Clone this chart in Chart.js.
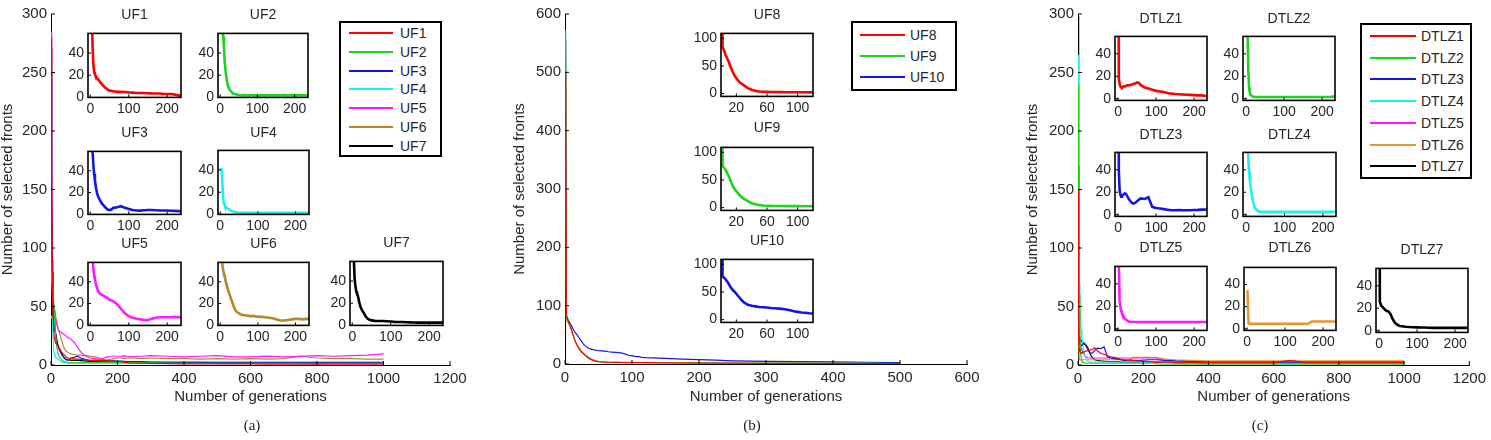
<!DOCTYPE html>
<html>
<head>
<meta charset="utf-8">
<script src="https://cdn.jsdelivr.net/npm/chart.js@4.4.0/dist/chart.umd.min.js"></script>
<style>
  body { margin: 0; background: #fff; }
  #fig { position: relative; width: 1491px; height: 440px; overflow: hidden; background: #fff;
         font-family: 'Liberation Sans', Arial, sans-serif; }
  .legend { position: absolute; border: 2px solid #000; background: #fff; box-sizing: border-box; }
  .cap { position: absolute; font-family: 'Liberation Serif', 'Times New Roman', serif; font-size: 15px;
         color: #222; transform: translate(-50%, -50%); }
</style>
</head>
<body>
<div id="fig"></div>
<script>
// ---- panel (a): UF1-UF7 ----
const GEN_A = [1, 2, 4, 6, 8, 10, 12, 15, 18, 21, 25, 30, 35, 40, 45, 50, 55, 60, 70, 80, 90, 100, 110, 120, 130, 140, 150, 160, 170, 180, 190, 200, 210, 220, 230, 240, 270, 300, 350, 400, 450, 500, 550, 600, 650, 700, 750, 800, 850, 900, 950, 1000];
const UF_NAMES = ['UF1', 'UF2', 'UF3', 'UF4', 'UF5', 'UF6', 'UF7'];
const UF_COLORS = ['#ff0000', '#1ed51e', '#1515e6', '#19f0f0', '#ff19ff', '#b5892a', '#000000'];
const UF1 = [280, 160, 75, 45, 30, 23, 21, 19, 17, 16, 14, 12, 10, 8.5, 7, 6, 6, 5.5, 5, 5, 4.8, 4.5, 4.3, 4, 4, 4, 3.8, 3.6, 3.5, 3.5, 3.2, 3, 3, 2.5, 1.8, 1.5, 1.5, 1.3, 1.2, 1, 1, 1, 1, 1, 0.8, 0.8, 0.8, 1, 0.8, 0.8, 0.8, 0.8];
const UF2 = [80, 75, 68, 62, 55, 45, 32, 22, 15, 10, 7, 5, 3.5, 3, 2.5, 2.2, 2, 2.1, 2, 1.9, 2, 2, 2.1, 2, 1.9, 2, 2, 2, 2.1, 2, 2, 1.9, 2, 2, 2, 2.1, 1.8, 1.8, 1.6, 1.5, 1.5, 1.5, 1.5, 1.5, 1.5, 1.5, 1.5, 1.5, 1.5, 1.5, 1.5, 1.5];
const UF3 = [250, 140, 80, 57, 45, 37, 31, 24, 19, 16, 13, 10, 8, 6, 4.5, 4, 4.5, 6, 6.5, 7.5, 6, 5, 4, 3.6, 3.5, 3.8, 4, 4, 3.8, 3.6, 3.6, 3.6, 3.4, 3.2, 3, 3, 2.8, 2.5, 2.3, 2.2, 2.2, 2.1, 2, 2, 2, 2, 2.1, 2, 2, 2, 2, 2];
const UF4 = [42, 41, 40, 25, 14, 10, 8, 6.5, 5.5, 5, 4, 3, 2.5, 2, 1.8, 1.5, 1.5, 1.5, 1.5, 1.5, 1.5, 1.5, 1.5, 1.5, 1.5, 1.5, 1.5, 1.5, 1.5, 1.5, 1.5, 1.5, 1.5, 1.5, 1.5, 1.5, 1.5, 1.5, 1.5, 1.5, 1.5, 1.5, 1.5, 1.5, 1.5, 1.5, 1.5, 1.5, 1.5, 1.5, 1.5, 1.5];
const UF5 = [285, 170, 90, 62, 52, 46, 42, 37, 34, 31, 29, 28, 27, 26, 25, 23.5, 23, 22, 19.5, 15, 11, 8.5, 7, 6, 5.5, 5, 5, 6, 7, 7.5, 7.5, 7.5, 7.5, 7.8, 7.5, 7, 7.5, 8, 7.5, 7, 7.5, 8, 7, 7, 7.5, 7, 7.5, 8, 7.5, 8, 8.5, 9.5];
const UF6 = [110, 85, 60, 55, 50, 47, 44, 40, 36, 32, 28, 23, 18, 14, 12, 11, 10, 9.5, 9, 8.5, 8.5, 8, 7.8, 7.5, 7, 6.5, 5.5, 4.5, 4.5, 5, 5.5, 6, 6, 5.5, 6, 6, 5.5, 6, 5.5, 5.5, 5, 5.5, 5, 5.5, 5, 5.5, 7.5, 6, 5.5, 5.5, 5, 5];
const UF7 = [270, 130, 60, 42, 36, 31, 29, 26, 21, 17, 14, 11, 8, 6, 5, 4.5, 4.3, 4, 4, 4, 3.8, 3.5, 3.2, 3, 3, 2.8, 2.7, 2.6, 2.5, 2.5, 2.5, 2.5, 2.5, 2.5, 2.5, 2.5, 2.5, 2.3, 2.3, 2.2, 2.2, 2.2, 2.2, 2.2, 2.2, 2.2, 2.2, 2.2, 2.2, 2.2, 2.2, 2.2];

// ---- panel (b): UF8-UF10 ----
const GEN_B = [1, 2, 4, 6, 8, 10, 12, 15, 18, 21, 24, 27, 30, 35, 40, 45, 50, 55, 60, 65, 70, 75, 80, 85, 90, 95, 100, 105, 110, 115, 120, 130, 140, 150, 175, 200, 225, 250, 300, 350, 400, 450, 500];
const UFB_NAMES = ['UF8', 'UF9', 'UF10'];
const UFB_COLORS = ['#ff0000', '#1ed51e', '#1515e6'];
const UF8 = [500, 85, 78, 70, 64, 58, 50, 40, 32, 26, 21, 18, 15, 10, 7, 5, 4, 3.5, 3.2, 3, 3, 2.8, 2.8, 2.6, 2.5, 2.5, 2.5, 2.4, 2.4, 2.3, 2.3, 2.2, 2, 2, 1.8, 1.6, 1.5, 1.4, 1.2, 1, 1, 0.9, 0.8];
const UF9 = [572, 75, 72, 68, 63, 57, 50, 40, 33, 28, 23, 19, 16, 12, 8, 6, 4.5, 3.8, 3.4, 3.1, 3, 3, 2.9, 2.8, 2.8, 2.7, 2.7, 2.6, 2.6, 2.6, 2.5, 2.4, 2.3, 2.2, 2, 1.9, 1.8, 1.7, 1.5, 1.4, 1.3, 1.2, 1.2];
const UF10 = [555, 78, 76, 73, 69, 65, 60, 54, 50, 45, 40, 35, 31, 27, 25, 24, 23, 22.5, 22, 21, 20.5, 20, 19.5, 18.5, 17, 15, 14, 13, 12.5, 11.5, 11, 10.5, 10, 9.5, 8.5, 7.5, 6.5, 5.5, 4.5, 4, 3.5, 3, 2.5];

// ---- panel (c): DTLZ1-DTLZ7 ----
const GEN_C = [1, 2, 4, 6, 8, 10, 12, 15, 18, 21, 25, 30, 35, 40, 45, 50, 55, 60, 70, 80, 90, 100, 110, 120, 130, 140, 150, 160, 170, 180, 190, 200, 210, 220, 230, 240, 270, 300, 350, 400, 450, 500, 550, 600, 650, 700, 750, 800, 850, 900, 950, 1000];
const DTLZ_NAMES = ['DTLZ1', 'DTLZ2', 'DTLZ3', 'DTLZ4', 'DTLZ5', 'DTLZ6', 'DTLZ7'];
const DTLZ_COLORS = ['#ff0000', '#1ed51e', '#1515e6', '#19f0f0', '#ff19ff', '#e8962f', '#000000'];
const DTLZ1 = [150, 18, 14, 11, 10.5, 10, 10.5, 11, 11, 11.5, 12, 12, 12.5, 13, 13.5, 14.5, 14, 12, 10, 9, 8, 7, 6.5, 6, 5, 4.5, 4.2, 4, 3.8, 3.6, 3.4, 3.2, 3, 3, 2.4, 2.5, 2.5, 2.3, 2.2, 2, 2, 2, 2, 2, 4, 2, 2, 2, 2, 2, 2, 2];
const DTLZ2 = [240, 90, 60, 25, 10, 5, 3.5, 2.5, 2, 1.6, 1.5, 1.5, 1.5, 1.5, 1.5, 1.5, 1.5, 1.5, 1.5, 1.5, 1.5, 1.5, 1.5, 1.5, 1.5, 1.5, 1.5, 1.5, 1.5, 1.5, 1.5, 1.5, 1.5, 1.5, 2, 1, 0.8, 0.8, 0.8, 0.8, 0.8, 0.8, 0.8, 0.8, 0.8, 0.8, 0.8, 0.8, 0.8, 0.8, 0.8, 0.8];
const DTLZ3 = [170, 40, 22, 18, 16, 16.5, 17.5, 18, 19, 18.5, 16, 13, 11, 10, 10.5, 12, 13.5, 14.5, 14, 15.5, 7, 6, 5.5, 5, 4.5, 4, 4, 4.2, 4, 4, 4, 4.2, 4.3, 4.5, 4.5, 4.5, 4, 3.5, 3, 2.5, 2.5, 2.5, 2.5, 2.5, 2.5, 2.5, 2.5, 2.5, 2.5, 2.5, 2.5, 2.5];
const DTLZ4 = [265, 120, 70, 50, 38, 30, 24, 17, 12, 8, 5, 3.5, 2.7, 2.5, 2.5, 2.5, 2.5, 2.5, 2.5, 2.5, 2.5, 2.5, 2.5, 2.5, 2.5, 2.5, 2.5, 2.5, 2.5, 2.5, 2.5, 2.5, 2.5, 2.5, 2.5, 3, 2.2, 2.2, 2.2, 2.2, 2.2, 2.2, 2.2, 2.2, 2.2, 2.2, 2.2, 2.2, 2.2, 2.2, 2.2, 2.2];
const DTLZ5 = [170, 60, 25, 20, 16, 14, 12.5, 10.5, 9, 8, 7, 6.2, 6, 6, 6, 6, 6, 6, 6, 6, 6, 6, 6, 6, 6, 6, 6, 6, 6, 6, 6, 6, 6, 6, 6, 6, 3, 1.5, 1.5, 1.5, 1.5, 1.5, 1.5, 1.5, 1.5, 1.5, 1.5, 1.5, 1.5, 1.5, 1.5, 1.5];
const DTLZ6 = [35, 35, 5, 4.5, 4.5, 4.5, 4.5, 4.5, 4.5, 4.5, 4.5, 4.5, 4.5, 4.5, 4.5, 4.5, 4.5, 4.5, 4.5, 4.5, 4.5, 4.5, 4.5, 4.5, 4.5, 4.5, 4.5, 4.5, 6.5, 6.5, 6.5, 6.5, 6.5, 6.5, 6.5, 6.5, 5, 4.5, 4, 3.5, 3.5, 3.5, 3.5, 3.5, 3.5, 3.5, 3.5, 3.5, 3.5, 3.5, 3.5, 3.5];
const DTLZ7 = [298, 26, 24, 22, 21.5, 21, 20, 19, 18, 17.5, 17, 15, 11, 8, 6, 5, 4.2, 4, 3.6, 3.3, 3.1, 3, 2.9, 2.8, 2.6, 2.5, 2.5, 2.5, 2.5, 2.5, 2.5, 2.5, 2.5, 2.5, 2.5, 2.5, 2.2, 2.2, 2.2, 2.2, 2.2, 2.2, 2.2, 2.2, 2.2, 2.2, 2.2, 2.2, 2.2, 2.2, 2.2, 2.2];

// ---- tick values ----
const MAIN_X_TICKS = [0, 200, 400, 600, 800, 1000, 1200];
const MAIN_Y_TICKS = [0, 50, 100, 150, 200, 250, 300];
const MAIN_B_X_TICKS = [0, 100, 200, 300, 400, 500, 600];
const MAIN_B_Y_TICKS = [0, 100, 200, 300, 400, 500, 600];
const INSET_X_TICKS = [0, 100, 200];
const INSET_Y_TICKS = [0, 20, 40];
const INSET_B_X_TICKS = [20, 60, 100];
const INSET_B_Y_TICKS = [0, 50, 100];

Chart.defaults.font.family = "'Liberation Sans', Arial, sans-serif";
Chart.defaults.font.size = 14;
Chart.defaults.color = '#262626';

const fig = document.getElementById('fig');

// box around inset axes + MATLAB style inward ticks
const framePlugin = {
  id: 'frame',
  afterDatasetsDraw(chart, args, o) {
    const { ctx, chartArea: a, scales: { x, y } } = chart;
    ctx.save();
    ctx.strokeStyle = '#000';
    if (o.box) {
      ctx.lineWidth = 1.6;
      ctx.strokeRect(a.left, a.top, a.right - a.left, a.bottom - a.top);
    }
    const L = o.tick;
    ctx.lineWidth = 1;
    ctx.beginPath();
    x.ticks.forEach(t => {
      const p = x.getPixelForValue(t.value);
      ctx.moveTo(p, a.bottom); ctx.lineTo(p, a.bottom - L);
    });
    y.ticks.forEach(t => {
      const p = y.getPixelForValue(t.value);
      ctx.moveTo(a.left, p); ctx.lineTo(a.left + L, p);
    });
    ctx.stroke();
    ctx.restore();
  }
};

function pts(gen, vals) {
  return gen.map((g, i) => ({ x: g, y: vals[i] }));
}

function holder(x, y, w, h) {
  const d = document.createElement('div');
  d.style.cssText = `position:absolute;left:${x}px;top:${y}px;width:${w}px;height:${h}px;`;
  const c = document.createElement('canvas');
  d.appendChild(c);
  fig.appendChild(d);
  return c;
}

// o.box = plot area in page pixels, o.pad = [left, right, bottom] room for labels
function plot(o) {
  const [x0, y0, x1, y1] = o.box;
  const [l, r, b] = o.pad;
  const t = o.title ? y0 - (o.titleY - 10.4) : o.top;
  const cv = holder(x0 - l, y0 - t, x1 - x0 + l + r, y1 - y0 + t + b);
  const fs = o.inset ? 14 : 15;

  const axis = (range, ticks, fit, extra) => ({
    type: 'linear', min: range[0], max: range[1],
    afterBuildTicks: s => { s.ticks = ticks.map(v => ({ value: v })); },
    afterFit: fit,
    grid: { display: false, drawTicks: false },
    border: { display: !o.inset, color: '#000', width: 1 },
    ...extra
  });

  return new Chart(cv, {
    type: 'line',
    data: {
      datasets: o.series.map(s => ({
        label: s.label,
        data: pts(o.gen, s.values),
        borderColor: s.color,
        borderWidth: o.lw,
        pointRadius: 0,
        tension: 0,
        fill: false
      }))
    },
    options: {
      responsive: true,
      maintainAspectRatio: false,
      animation: false,
      events: [],
      layout: { autoPadding: false, padding: { top: o.title ? 0 : t, right: r, left: 0, bottom: 0 } },
      plugins: {
        legend: { display: false },
        tooltip: { enabled: false },
        title: o.title ? {
          display: true, text: o.title, fullSize: false, color: '#262626',
          font: { size: 14, weight: 'normal', lineHeight: 1.2 },
          padding: { top: 2, bottom: t - 18.8 }
        } : { display: false },
        frame: { box: !!o.inset, tick: o.inset ? 3 : 4 }
      },
      scales: {
        x: axis(o.xr, o.xt, s => { s.height = b; }, {
          ticks: { padding: o.inset ? 3 : 5, maxRotation: 0, autoSkip: false, font: { size: fs },
                   callback: v => String(v) },
          title: o.xTitle ? { display: true, text: o.xTitle, font: { size: 15, lineHeight: 1 },
                              padding: { top: 0, bottom: 16 } } : { display: false }
        }),
        y: axis(o.yr, o.yt, s => { s.width = l; }, {
          ticks: { padding: 4, autoSkip: false, font: { size: fs }, callback: v => String(v) },
          title: o.yTitle ? { display: true, text: o.yTitle, font: { size: 15, lineHeight: 1 },
                              padding: { top: 0, bottom: 0 } } : { display: false }
        })
      }
    },
    plugins: [framePlugin]
  });
}

function legend(left, top, right, bottom, names, colors, row0, step, lineX0, lineX1, textX) {
  const box = document.createElement('div');
  box.className = 'legend';
  box.style.left = left + 'px';
  box.style.top = top + 'px';
  box.style.width = (right - left) + 'px';
  box.style.height = (bottom - top) + 'px';
  names.forEach((n, i) => {
    const y = row0 + i * step - top - 2;
    const ln = document.createElement('div');
    ln.style.cssText = `position:absolute;left:${lineX0 - left - 2}px;top:${y - 1}px;width:${lineX1 - lineX0}px;height:2px;background:${colors[i]};`;
    const tx = document.createElement('div');
    tx.textContent = n;
    tx.style.cssText = `position:absolute;left:${textX - left - 2}px;top:${y - 8}px;font-size:14px;line-height:16px;color:#262626;white-space:nowrap;`;
    box.appendChild(ln);
    box.appendChild(tx);
  });
  fig.appendChild(box);
}

function caption(text, x, y) {
  const d = document.createElement('div');
  d.className = 'cap';
  d.textContent = text;
  d.style.left = x + 'px';
  d.style.top = y + 'px';
  fig.appendChild(d);
}

const seriesOf = (names, colors, values) => names.map((n, i) => ({ label: n, color: colors[i], values: values[i] }));
const ufA = seriesOf(UF_NAMES, UF_COLORS, [UF1, UF2, UF3, UF4, UF5, UF6, UF7]);
const ufB = seriesOf(UFB_NAMES, UFB_COLORS, [UF8, UF9, UF10]);
const dtlz = seriesOf(DTLZ_NAMES, DTLZ_COLORS, [DTLZ1, DTLZ2, DTLZ3, DTLZ4, DTLZ5, DTLZ6, DTLZ7]);

// ---- main axes ----
plot({ box: [51, 14, 450, 365], pad: [51, 50, 55], top: 14, gen: GEN_A, series: ufA, lw: 1.2,
       xr: [0, 1200], yr: [0, 300], xt: MAIN_X_TICKS, yt: MAIN_Y_TICKS,
       xTitle: 'Number of generations', yTitle: 'Number of selected fronts' });
plot({ box: [565, 14, 967, 364], pad: [53, 33, 56], top: 14, gen: GEN_B, series: ufB, lw: 1.2,
       xr: [0, 600], yr: [0, 600], xt: MAIN_B_X_TICKS, yt: MAIN_B_Y_TICKS,
       xTitle: 'Number of generations', yTitle: 'Number of selected fronts' });
plot({ box: [1078, 14, 1477, 365], pad: [53, 14, 55], top: 14, gen: GEN_C, series: dtlz, lw: 1.2,
       xr: [0, 1200], yr: [0, 300], xt: MAIN_X_TICKS, yt: MAIN_Y_TICKS,
       xTitle: 'Number of generations', yTitle: 'Number of selected fronts' });

// ---- insets (a) ----
const insetA = [
  [88, 33, 181, 97, 15], [218, 33, 308, 97, 15],
  [88, 151, 181, 214, 133], [218, 150, 309, 214, 133],
  [88, 262, 181, 325, 244], [218, 262, 309, 325, 244], [350, 261, 443, 325, 243]
];
insetA.forEach((p, i) => plot({
  box: p.slice(0, 4), titleY: p[4], title: UF_NAMES[i], pad: [34, 12, 22], inset: true,
  gen: GEN_A, series: [ufA[i]], lw: 2.6,
  xr: [-6, 236], yr: [0, 57.7], xt: INSET_X_TICKS, yt: INSET_Y_TICKS
}));

// ---- insets (b) ----
const insetB = [[721, 33, 813, 96, 15], [721, 147, 813, 210, 128], [721, 259, 813, 322, 241]];
insetB.forEach((p, i) => plot({
  box: p.slice(0, 4), titleY: p[4], title: UFB_NAMES[i], pad: [40, 12, 22], inset: true,
  gen: GEN_B, series: [ufB[i]], lw: 2.6,
  xr: [0, 120], yr: [-5, 109], xt: INSET_B_X_TICKS, yt: INSET_B_Y_TICKS
}));

// ---- insets (c) ----
const insetC = [
  [1115, 36, 1207, 100, 19], [1243, 36, 1335, 100, 19],
  [1115, 152, 1207, 216, 135], [1243, 152, 1336, 216, 135],
  [1115, 266, 1207, 330, 248], [1244, 267, 1336, 330, 248], [1376, 268, 1468, 332, 250]
];
insetC.forEach((p, i) => plot({
  box: p.slice(0, 4), titleY: p[4], title: DTLZ_NAMES[i], pad: [34, 12, 22], inset: true,
  gen: GEN_C, series: [dtlz[i]], lw: 2.6,
  xr: [-8, 234], yr: [-1.5, 55.5], xt: INSET_X_TICKS, yt: INSET_Y_TICKS
}));

// ---- legends ----
legend(339, 21, 442, 157, UF_NAMES, UF_COLORS, 33, 18.8, 349, 393, 400);
legend(851, 21, 957, 91, UFB_NAMES, UFB_COLORS, 35, 21, 860, 905, 910);
legend(1360, 23, 1472, 179, DTLZ_NAMES, DTLZ_COLORS, 36, 21.7, 1370, 1416, 1421);

caption('(a)', 252, 425);
caption('(b)', 752, 425);
caption('(c)', 1260, 425);
</script>
</body>
</html>
